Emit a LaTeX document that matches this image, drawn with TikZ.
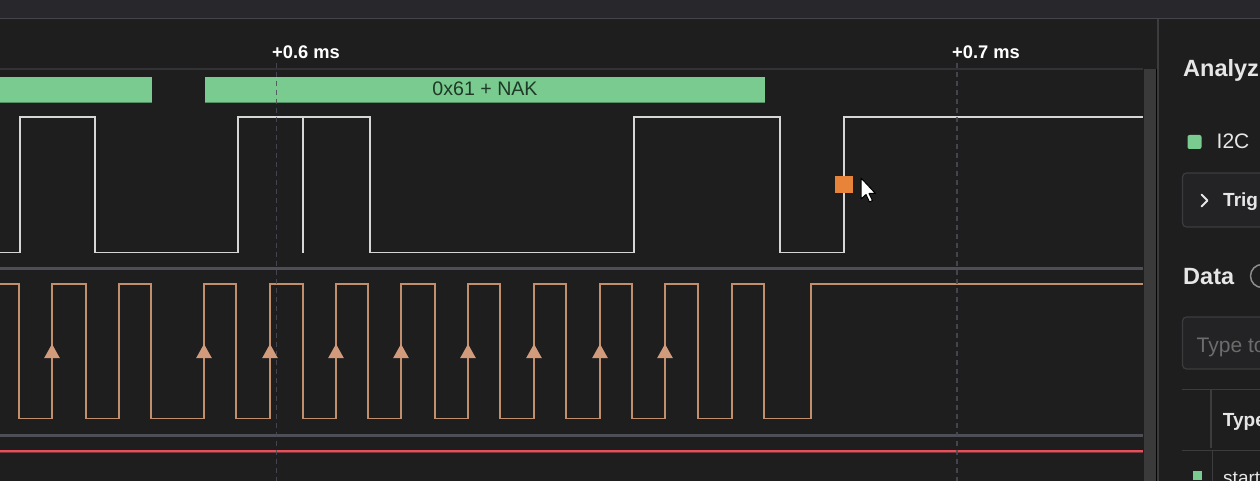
\documentclass[tikz,border=0pt]{standalone}
\usepackage{fontspec}
\setmainfont{Liberation Sans}
\definecolor{bgcol}{HTML}{1E1E1E}
\definecolor{hdrcol}{HTML}{27272C}
\definecolor{hdrline}{HTML}{45454D}
\definecolor{gridline}{HTML}{313136}
\definecolor{sepcol}{HTML}{4E4E56}
\definecolor{dashcol}{HTML}{4B4B57}
\definecolor{greencol}{HTML}{79CB8F}
\definecolor{greentxt}{HTML}{1F3A27}
\definecolor{sdacol}{HTML}{D6D6D6}
\definecolor{sclcol}{HTML}{C28F6D}
\definecolor{sclarrow}{HTML}{D29C7C}
\definecolor{redcol}{HTML}{E5505C}
\definecolor{orangecol}{HTML}{E8843A}
\definecolor{scrollcol}{HTML}{3A3A3A}
\definecolor{panelline}{HTML}{3C3C3F}
\definecolor{boxfill}{HTML}{232325}
\definecolor{txtcol}{HTML}{E6E6E6}
\definecolor{placeholder}{HTML}{6C6C6C}
\begin{document}
\begin{tikzpicture}[x=1pt,y=-1pt,
  sdasig/.style={draw=sdacol, line width=1.7pt},
  sclsig/.style={draw=sclcol, line width=1.7pt},
  sepline/.style={draw=sepcol, line width=2.5pt},
  vdash/.style={draw=dashcol, line width=1.5pt, dash pattern=on 5pt off 4pt},
  ticklabel/.style={font=\fontsize{18.3}{20}\selectfont\bfseries, text=white, anchor=base west, inner sep=0pt},
  bartxt/.style={font=\fontsize{19.6}{22}\selectfont, text=greentxt, anchor=base, inner sep=0pt},
  head/.style={font=\fontsize{23.5}{26}\selectfont\bfseries, text=txtcol, anchor=base west, inner sep=0pt},
  plain/.style={font=\fontsize{21}{24}\selectfont, text=txtcol, anchor=base west, inner sep=0pt},
  btxt/.style={font=\fontsize{19}{22}\selectfont\bfseries, text=txtcol, anchor=base west, inner sep=0pt},
  panelbox/.style={draw=panelline, fill=boxfill, line width=1.2pt, rounded corners=4pt},
  risearrow/.style={fill=sclarrow}
]
\useasboundingbox (0,0) rectangle (1260,481);
\clip (0,0) rectangle (1260,481);
% backgrounds
\fill[bgcol] (0,0) rectangle (1260,481);
\fill[hdrcol] (0,0) rectangle (1260,18);
\draw[hdrline, line width=1.5pt] (0,18.5) -- (1260,18.5);
\draw[gridline, line width=1.5pt] (0,69) -- (1143,69);
% time labels
\node[ticklabel] (t6) at (272,59) {+0.6 ms};
\node[ticklabel] (t7) at (952,59) {+0.7 ms};
% green data bars
\fill[greencol] (0,77) rectangle (151.5,103);
\fill[greencol] (205,77) rectangle (765,103);
\draw[greencol!70!black, line width=1pt] (0,103) -- (151.5,103) (205,103) -- (765,103);
\node[bartxt] (nak) at (485,96) {0x61 + NAK};
% SDA signal
\draw[sdasig] (0,252.5) -- (20,252.5) -- (20,117) -- (95,117) -- (95,252.5) -- (238,252.5) -- (238,117) -- (370,117) -- (370,252.5) -- (634,252.5) -- (634,117) -- (780,117) -- (780,252.5) -- (844,252.5) -- (844,117) -- (1143,117);
\draw[sdasig] (303,117) -- (303,252.5);
% separators
\draw[sepline] (0,268.5) -- (1143,268.5);
\draw[sepline] (0,435.5) -- (1143,435.5);
% SCL signal
\draw[sclsig] (0,284) -- (19,284) -- (19,418.5) -- (52,418.5) -- (52,284) -- (86,284) -- (86,418.5) -- (119,418.5) -- (119,284) -- (151,284) -- (151,418.5) -- (204,418.5) -- (204,284) -- (236,284) -- (236,418.5) -- (270,418.5) -- (270,284) -- (303,284) -- (303,418.5) -- (336,418.5) -- (336,284) -- (368,284) -- (368,418.5) -- (401,418.5) -- (401,284) -- (435,284) -- (435,418.5) -- (468,418.5) -- (468,284) -- (500,284) -- (500,418.5) -- (534,418.5) -- (534,284) -- (566,284) -- (566,418.5) -- (600,418.5) -- (600,284) -- (632,284) -- (632,418.5) -- (665,418.5) -- (665,284) -- (698,284) -- (698,418.5) -- (732,418.5) -- (732,284) -- (764,284) -- (764,418.5) -- (811,418.5) -- (811,284) -- (1143,284);
\foreach \x in {52,204,270,336,401,468,534,600,665}
  \fill[risearrow] (\x-7.8,358) -- (\x,344) -- (\x+7.8,358) -- cycle;
% red line
\draw[redcol!45!bgcol, line width=1.5pt] (0,452.5) -- (1143,452.5);
\draw[redcol, line width=1.5pt] (0,451) -- (1143,451);
% dashed time markers
\draw[vdash, opacity=0.85] (276.5,63) -- (276.5,481);
\draw[vdash, opacity=0.85] (957,63) -- (957,481);
% orange marker and cursor
\fill[orangecol] (835,176.5) rectangle (852.5,193);
\filldraw[fill=white, draw=black, line width=1pt, line join=round] (861,178) -- (861,199) -- (866,194.5) -- (869.5,202) -- (872.5,200.5) -- (869,193.5) -- (875.5,193.5) -- cycle;
% scrollbar and panel divider
\fill[scrollcol] (1143.5,69) rectangle (1155.5,481);
\fill[black!85!bgcol] (1155.5,69) rectangle (1157,481);
\draw[panelline, line width=1.5pt] (1157.8,19) -- (1157.8,481);
% right panel
\node[head] (analyz) at (1183,76.7) {Analyz};
\fill[greencol, rounded corners=2pt] (1187.5,135) rectangle (1201.5,149);
\node[plain] (i2c) at (1216.5,149) {I2C};
\draw[panelbox] (1182.5,173) rectangle (1275,227);
\draw[txtcol, line width=1.8pt, line cap=round, line join=round] (1201.5,194.5) -- (1207.5,200.5) -- (1201.5,206.5);
\node[btxt] (trig) at (1223,206.7) {Trig};
\node[head] (data) at (1183,284) {Data};
\draw[black!45, line width=1.5pt] (1262,276) circle (11.5);
\draw[panelbox] (1182.5,317) rectangle (1275,369);
\node[plain, text=placeholder] (typeto) at (1196.5,352) {Type to};
\draw[panelline, line width=1.2pt] (1182,389.3) -- (1260,389.3);
\draw[panelline, line width=1.2pt] (1211,389.3) -- (1211,448);
\draw[panelline, line width=1.2pt] (1182,450.7) -- (1260,450.7);
\draw[panelline, line width=1.2pt] (1212.3,450.7) -- (1212.3,481);
\node[btxt] (type) at (1222.7,426) {Type};
\fill[greencol] (1193.3,470.7) rectangle (1202.3,479.5);
\node[plain, font=\fontsize{19}{22}\selectfont] (start) at (1223,484.5) {start};
\end{tikzpicture}
\end{document}
